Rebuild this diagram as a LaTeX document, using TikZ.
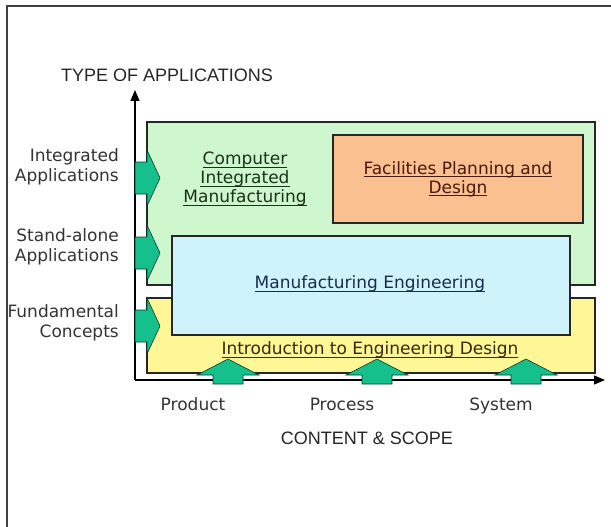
\documentclass[tikz,border=0pt]{standalone}
\usepackage{fontspec}
\setmainfont{DejaVu Sans}
\newfontfamily\axisfont{Liberation Sans}
\newcommand\myul[1]{\leavevmode\setbox0\hbox{#1}\rlap{\rule[-3pt]{\wd0}{0.9pt}}\box0}
\definecolor{gbox}{RGB}{206,247,206}
\definecolor{obox}{RGB}{250,192,144}
\definecolor{bbox}{RGB}{206,243,251}
\definecolor{ybox}{RGB}{255,247,150}
\definecolor{garr}{RGB}{22,192,140}
\definecolor{tgreen}{RGB}{26,50,26}
\definecolor{tbrown}{RGB}{72,26,16}
\definecolor{tblue}{RGB}{24,44,80}
\definecolor{tolive}{RGB}{56,40,16}
\usetikzlibrary{arrows.meta}
\tikzset{
  box/.style={draw=black!85, line width=1.4pt, inner sep=0pt, outer sep=0pt, anchor=north west},
  lbl/.style={font=\fontsize{17}{19}\selectfont, inner sep=0pt, text=black!80, align=center},
  side/.style={lbl, font=\fontsize{17}{19.5}\selectfont, align=right, anchor=east},
  axlbl/.style={font=\axisfont\fontsize{18}{20}\selectfont, inner sep=0pt, text=black!85},
  garrow/.style={fill=garr, draw=black!70!garr, line width=0.6pt, line join=miter},
  axis/.style={line width=1.4pt, black, -{Triangle[length=11pt,width=9pt]}}
}
\begin{document}
\begin{tikzpicture}[x=1pt,y=-1pt]
\useasboundingbox[fill=white] (0,0) rectangle (611,527);
% outer frame
\draw[line width=1.5pt, black!75] (7,527) -- (7,6) -- (611,6);
% boxes
\node[box, fill=gbox, minimum width=448pt, minimum height=163pt] (cim) at (147,122) {};
\node[box, fill=obox, minimum width=250pt, minimum height=88pt] (fpd) at (333,135) {};
\node[box, fill=ybox, minimum width=448pt, minimum height=75pt] (ied) at (147,298) {};
\node[box, fill=bbox, minimum width=398pt, minimum height=99pt] (me) at (172,236) {};
% box texts
\node[lbl, text=tgreen] (cimt) at (245,179) {\myul{Computer}\\\myul{Integrated}\\\myul{Manufacturing}};
\node[lbl, text=tbrown] (fpdt) at (458,179) {\myul{Facilities Planning and}\\\myul{Design}};
\node[lbl, text=tblue] (met) at (370,284) {\myul{Manufacturing Engineering}};
\node[lbl, text=tolive] (iedt) at (370,350) {\myul{Introduction to Engineering Design}};
% axes
\coordinate (o) at (135,380);
\coordinate (ytop) at (135,90);
\coordinate (xend) at (605,380);
\draw[axis] (o) -- (ytop);
\draw[axis] (o) -- (xend);
% left arrows
\foreach \c in {178,253,326}{
  \draw[garrow] (135,\c-16) -- (147,\c-16) -- (147,\c-28) -- (160,\c) -- (147,\c+28) -- (147,\c+16) -- (135,\c+16) -- cycle;
}
% bottom arrows
\foreach \c in {228,377,526}{
  \draw[garrow] (\c-15,384) -- (\c-15,375) -- (\c-31,375) -- (\c,359) -- (\c+31,375) -- (\c+15,375) -- (\c+15,384) -- cycle;
}
% axis titles
\node[axlbl, anchor=base west] (ytitle) at (61,82) {TYPE OF APPLICATIONS};
\node[axlbl, anchor=base] (xtitle) at (367,444) {CONTENT \& SCOPE};
% side labels
\node[side] (ia) at (119,167) {Integrated\\Applications};
\node[side] (sa) at (119,247) {Stand-alone\\Applications};
\node[side] (fc) at (119,323) {Fundamental\\Concepts};
% bottom labels
\node[lbl, anchor=base] (prod) at (193,410) {Product};
\node[lbl, anchor=base] (proc) at (342,410) {Process};
\node[lbl, anchor=base] (sys) at (501,410) {System};
\end{tikzpicture}
\end{document}
